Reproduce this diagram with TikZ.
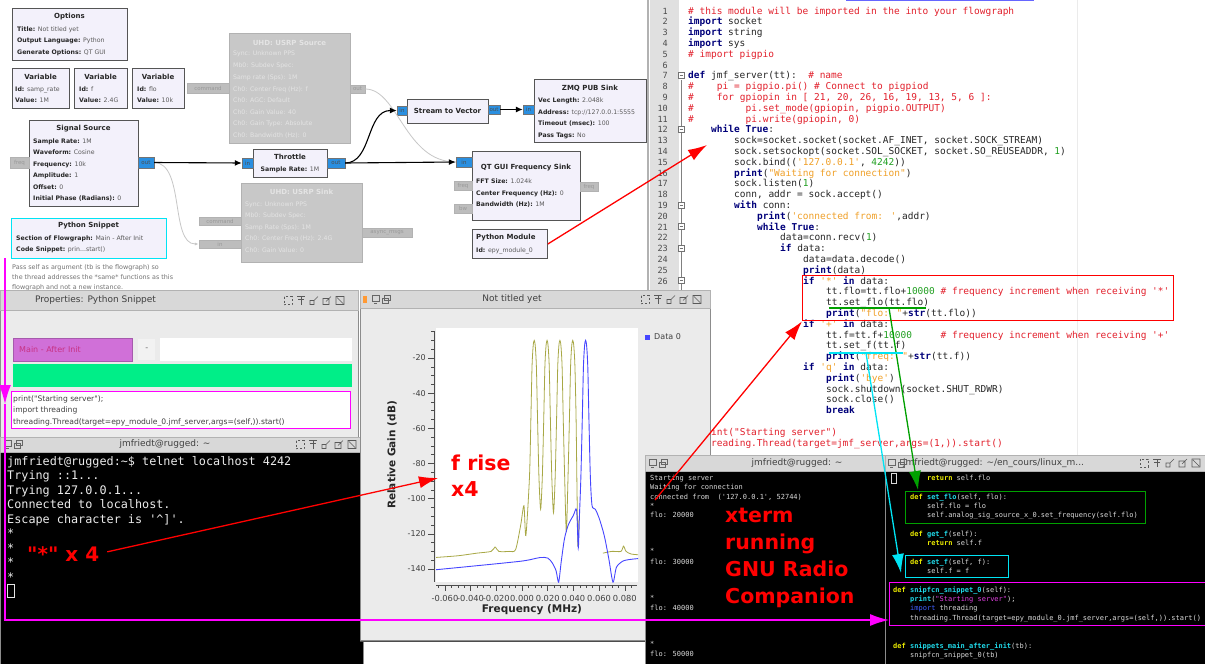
\documentclass[tikz,border=0pt]{standalone}
\usepackage{fontspec}
\setmainfont{DejaVu Sans}
\newfontfamily\uif{DejaVu Sans}
\newfontfamily\codef{DejaVu Sans Mono}
\usetikzlibrary{arrows.meta}
\definecolor{blockbg}{HTML}{F3F1FB}
\definecolor{blockbd}{HTML}{555555}
\definecolor{portblue}{HTML}{2A8FE0}
\definecolor{portgray}{HTML}{BDBDBD}
\definecolor{fadegray}{HTML}{C8C8C8}
\definecolor{fadetxt}{HTML}{E4E4E4}
\definecolor{valgray}{HTML}{5A5A5A}
\definecolor{kwblue}{HTML}{00007A}
\definecolor{cmred}{HTML}{E2202C}
\definecolor{storange}{HTML}{F0A028}
\definecolor{nmgreen}{HTML}{22A022}
\definecolor{gutter}{HTML}{E0E0E0}
\definecolor{winbg}{HTML}{EBEBEB}
\definecolor{titlebar}{HTML}{D8D8D8}
\definecolor{annred}{HTML}{FF0000}
\definecolor{anngreen}{HTML}{00A000}
\definecolor{anncyan}{HTML}{00E4F4}
\definecolor{annmag}{HTML}{FF00FF}
\definecolor{specolive}{HTML}{A8A846}
\definecolor{specblue}{HTML}{4646FF}
\definecolor{snipgreen}{HTML}{00EE88}
\definecolor{combomag}{HTML}{D070D8}
\definecolor{termyellow}{HTML}{E8E800}
\definecolor{termcyan}{HTML}{20D8E8}
\definecolor{termmag}{HTML}{E040E0}
\definecolor{termblue}{HTML}{4060FF}
\newcommand\Kw[1]{{\bfseries\color{kwblue}#1}}
\newcommand\Cm[1]{{\color{cmred}#1}}
\newcommand\Sr[1]{{\color{storange}#1}}
\newcommand\Nm[1]{{\color{nmgreen}#1}}
\newcommand\Pk[1]{{\color{black!85}\bfseries #1}}
\newcommand\Tk[1]{{\bfseries\color{termyellow}#1}}
\newcommand\Tf[1]{{\bfseries\color{termcyan}#1}}
\newcommand\Ts[1]{{\color{termmag}#1}}
\newcommand\Ti[1]{{\color{termblue}#1}}
\newcommand\CL[3]{\node[codeln] (cl#2-#1) at ({688+#1*5.75},{14+(#2-1)*10.8}) {#3};}
\newcommand\TL[4]{\node[sterm] (#1) at (#2,#3) {#4};}
\newcommand\wicons[2]{%
\begin{scope}[shift={(#1,#2)}, color=black!65, line width=0.6pt]
 \draw[dash pattern=on 2pt off 2pt] (0,-4) rectangle (8,4);
 \draw (13,-4) -- (21,-4) (17,-4) -- (17,4) (14,-1) -- (20,-1);
 \draw (26,0) rectangle (30,4) (30,0) -- (34,-4);
 \draw (39,-2) rectangle (45,4) (42,1) -- (47,-4);
 \draw (52,-4) rectangle (60,4) (53,-3) -- (59,3);
\end{scope}}
\newcommand\licons[2]{%
\begin{scope}[shift={(#1,#2)}, color=black!60, line width=0.6pt]
 \draw (0,-4) rectangle (7,2) (2,4) -- (5,4);
 \draw (10,-1) rectangle (16,4) (12,-4) rectangle (18,1);
\end{scope}}
\tikzset{
 codeln/.style={anchor=base west, inner sep=0, font=\codef\fontsize{9.5}{10}\selectfont, text=black!85},
 lnum/.style={anchor=base east, inner sep=0, font=\codef\fontsize{8.5}{9}\selectfont, text=black!70},
 blk/.style={draw=blockbd, fill=blockbg, line width=0.9pt, inner sep=0, anchor=north west},
 gblk/.style={draw=black!30, fill=fadegray, line width=0.8pt, inner sep=0, anchor=north west},
 ttl/.style={inner sep=0, font=\uif\bfseries\fontsize{7}{8}\selectfont, text=black!85},
 fttl/.style={inner sep=0, font=\uif\bfseries\fontsize{7}{8}\selectfont, text=fadetxt},
 prm/.style={inner sep=0, anchor=base west, font=\uif\fontsize{6.2}{7}\selectfont, text=valgray},
 fprm/.style={inner sep=0, anchor=base west, font=\uif\fontsize{6.2}{7}\selectfont, text=fadetxt},
 note/.style={inner sep=0, anchor=base west, font=\uif\fontsize{6.4}{7}\selectfont, text=black!55},
 bport/.style={draw=black!55, fill=portblue, inner sep=0, font=\uif\fontsize{5.5}{6}\selectfont, text=black!70},
 gport/.style={draw=black!30, fill=portgray, inner sep=0, font=\uif\fontsize{5.5}{6}\selectfont, text=black!40},
 conn/.style={draw=black, line width=1.1pt, -{Latex[length=7pt,width=6pt]}},
 gconn/.style={draw=black!22, line width=0.8pt},
 win/.style={anchor=north west, inner sep=0, fill=winbg, draw=black!45, line width=0.6pt},
 tbar/.style={anchor=north west, inner sep=0, fill=titlebar, draw=black!30, line width=0.4pt},
 wtitle/.style={inner sep=0, font=\uif\fontsize{9}{10}\selectfont, text=black!75},
 term/.style={anchor=base west, inner sep=0, font=\codef\fontsize{11.8}{12}\selectfont, text=white!92!black},
 sterm/.style={anchor=base west, inner sep=0, font=\codef\fontsize{7}{8}\selectfont, text=white!85!black},
 uitxt/.style={anchor=base west, inner sep=0, font=\uif\fontsize{7.6}{8}\selectfont, text=black!75},
 ann/.style={inner sep=0, anchor=base west, font=\uif\bfseries\fontsize{20.5}{22}\selectfont, text=annred},
 redarr/.style={draw=annred, line width=1.3pt, -{Latex[length=19pt,width=12pt]}},
 grnarr/.style={draw=anngreen, line width=1.3pt, -{Latex[length=19pt,width=12pt]}},
 cyanarr/.style={draw=anncyan, line width=1.3pt, -{Latex[length=19pt,width=12pt]}},
 magarr/.style={draw=annmag, line width=1.3pt, -{Latex[length=19pt,width=12pt]}},
 abox/.style={anchor=north west, inner sep=0, line width=1.4pt},
 ylab/.style={anchor=east, inner sep=0, font=\uif\fontsize{8}{9}\selectfont, text=black!75},
 xlab/.style={inner sep=0, font=\uif\fontsize{8.3}{9}\selectfont, text=black!75}
}
\begin{document}
\begin{tikzpicture}[x=1pt,y=-1pt]
\useasboundingbox (0,0) rectangle (1205,664);
\fill[white] (0,0) rectangle (1205,664);

% ================= flowgraph =================
\node[blk, minimum width=115, minimum height=52] (opt) at (12,8) {};
\node[ttl] (opt-t) at (69.5,17) {Options};
\node[prm] (opt-1) at (17,31.5) {\Pk{Title:} Not titled yet};
\node[prm] (opt-2) at (17,42.5) {\Pk{Output Language:} Python};
\node[prm] (opt-3) at (17,54.5) {\Pk{Generate Options:} QT GUI};

\node[blk, minimum width=57, minimum height=40] (v1) at (12,68) {};
\node[ttl] (v1-t) at (40.5,77) {Variable};
\node[prm] (v1-1) at (15,91.5) {\Pk{Id:} samp\_rate};
\node[prm] (v1-2) at (15,102.5) {\Pk{Value:} 1M};
\node[blk, minimum width=53, minimum height=40] (v2) at (74,68) {};
\node[ttl] (v2-t) at (100.5,77) {Variable};
\node[prm] (v2-1) at (79,91.5) {\Pk{Id:} f};
\node[prm] (v2-2) at (79,102.5) {\Pk{Value:} 2.4G};
\node[blk, minimum width=52, minimum height=40] (v3) at (132,68) {};
\node[ttl] (v3-t) at (158,77) {Variable};
\node[prm] (v3-1) at (137,91.5) {\Pk{Id:} flo};
\node[prm] (v3-2) at (137,102.5) {\Pk{Value:} 10k};

\node[blk, minimum width=109, minimum height=86] (ss) at (29,120) {};
\node[ttl] (ss-t) at (83.5,129) {Signal Source};
\node[prm] (ss-1) at (33,143) {\Pk{Sample Rate:} 1M};
\node[prm] (ss-2) at (33,154.5) {\Pk{Waveform:} Cosine};
\node[prm] (ss-3) at (33,166) {\Pk{Frequency:} 10k};
\node[prm] (ss-4) at (33,177.5) {\Pk{Amplitude:} 1};
\node[prm] (ss-5) at (33,189) {\Pk{Offset:} 0};
\node[prm] (ss-6) at (33,200.5) {\Pk{Initial Phase (Radians):} 0};
\node[gport, minimum width=19, minimum height=11] (ss-freq) at (19.5,162.5) {freq};
\node[bport, minimum width=16, minimum height=11] (ss-out) at (146,162.5) {out};

\node[blk, draw=anncyan, line width=1.4pt, minimum width=155, minimum height=40] (snip) at (11,218) {};
\node[ttl] (snip-t) at (88.5,226) {Python Snippet};
\node[prm] (snip-1) at (16,240.5) {\Pk{Section of Flowgraph:} Main - After Init};
\node[prm] (snip-2) at (16,251.5) {\Pk{Code Snippet:} prin...start()};

\node[note] (n1) at (12,269.5) {Pass self as argument (tb is the flowgraph) so};
\node[note] (n2) at (12,279.5) {the thread addresses the *same* functions as this};
\node[note] (n3) at (12,289) {flowgraph and not a new instance.};

% UHD source (disabled)
\node[gblk, minimum width=121, minimum height=110] (usrc) at (229,33) {};
\node[fttl] (usrc-t) at (289.5,43) {UHD: USRP Source};
\node[fprm] (us1) at (233,55.5) {Sync: Unknown PPS};
\node[fprm] (us2) at (233,67.5) {Mb0: Subdev Spec:};
\node[fprm] (us3) at (233,79.5) {Samp rate (Sps): 1M};
\node[fprm] (us4) at (233,91.5) {Ch0: Center Freq (Hz): f};
\node[fprm] (us5) at (233,102.5) {Ch0: AGC: Default};
\node[fprm] (us6) at (233,114.5) {Ch0: Gain Value: 40};
\node[fprm] (us7) at (233,125.5) {Ch0: Gain Type: Absolute};
\node[fprm] (us8) at (233,137.5) {Ch0: Bandwidth (Hz): 0};
\node[gport, minimum width=42, minimum height=10] (usrc-cmd) at (208,88) {command};
\node[gport, minimum width=15, minimum height=8] (usrc-out) at (357.5,89) {out};

% Throttle
\node[blk, minimum width=74, minimum height=28] (thr) at (253,149) {};
\node[ttl] (thr-t) at (290,157) {Throttle};
\node[prm, anchor=base] (thr-1) at (290,171.5) {\Pk{Sample Rate:} 1M};
\node[bport, minimum width=11, minimum height=10] (thr-in) at (247.5,163) {in};
\node[bport, minimum width=18, minimum height=10] (thr-out) at (336,163) {out};

% UHD sink (disabled)
\node[gblk, minimum width=121, minimum height=79] (usnk) at (241,183) {};
\node[fttl] (usnk-t) at (301.5,192) {UHD: USRP Sink};
\node[fprm] (uk1) at (245,206) {Sync: Unknown PPS};
\node[fprm] (uk2) at (245,217.5) {Mb0: Subdev Spec:};
\node[fprm] (uk3) at (245,229) {Samp Rate (Sps): 1M};
\node[fprm] (uk4) at (245,240.5) {Ch0: Center Freq (Hz): 2.4G};
\node[fprm] (uk5) at (245,252) {Ch0: Gain Value: 0};
\node[gport, minimum width=42, minimum height=8] (usnk-cmd) at (220,221) {command};
\node[gport, minimum width=42, minimum height=8] (usnk-in) at (220,244) {in};
\node[gport, minimum width=50, minimum height=9] (usnk-msg) at (387,232.5) {async\_msgs};

% Stream to vector, ZMQ
\node[blk, minimum width=81, minimum height=24] (stv) at (407,99) {};
\node[ttl] (stv-t) at (447.5,111) {Stream to Vector};
\node[bport, minimum width=10, minimum height=9] (stv-in) at (402,110.5) {in};
\node[bport, minimum width=12, minimum height=9] (stv-out) at (494,109.5) {out};

\node[blk, minimum width=112, minimum height=63] (zmq) at (534,79) {};
\node[ttl] (zmq-t) at (590,88) {ZMQ PUB Sink};
\node[prm] (zmq-1) at (538,102.5) {\Pk{Vec Length:} 2.048k};
\node[prm] (zmq-2) at (538,114.5) {\Pk{Address:} tcp://127.0.0.1:5555};
\node[prm] (zmq-3) at (538,125.5) {\Pk{Timeout (msec):} 100};
\node[prm] (zmq-4) at (538,137.5) {\Pk{Pass Tags:} No};
\node[bport, minimum width=11, minimum height=9] (zmq-in) at (528.5,109.5) {in};

% QT GUI sink
\node[blk, minimum width=108, minimum height=69] (qt) at (472,151) {};
\node[ttl] (qt-t) at (526,168) {QT GUI Frequency Sink};
\node[prm] (qt-1) at (476,183.5) {\Pk{FFT Size:} 1.024k};
\node[prm] (qt-2) at (476,195.5) {\Pk{Center Frequency (Hz):} 0};
\node[prm] (qt-3) at (476,206.5) {\Pk{Bandwidth (Hz):} 1M};
\node[bport, minimum width=16, minimum height=10] (qt-in) at (464,162) {in};
\node[gport, minimum width=18, minimum height=9] (qt-freq) at (463,185.5) {freq};
\node[gport, minimum width=18, minimum height=9] (qt-bw) at (463,208.5) {bw};
\node[gport, minimum width=18, minimum height=9] (qt-fo) at (589,186.5) {freq};

% Python module
\node[blk, minimum width=75, minimum height=29] (pmod) at (472,229) {};
\node[ttl, anchor=west] (pmod-t) at (476,238) {Python Module};
\node[prm] (pmod-1) at (476,252.5) {\Pk{Id:} epy\_module\_0};

% connections
\draw[gconn] (usrc-out.east) .. controls (398,89) and (405,162) .. (qt-in.west);
\draw[gconn, -{Latex[length=4pt,width=3pt]}] (ss-out.east) .. controls (185,163) and (170,244) .. (usnk-in.west);
\draw[conn] (ss-out.east) -- (thr-in.west);
\draw[conn] (thr-out.east) .. controls (372,163) and (366,110.5) .. (stv-in.west);
\draw[conn] (thr-out.east) -- (qt-in.west);
\draw[conn] (stv-out.east) -- (zmq-in.west);

% ================= editor =================
\fill[white] (647,0) rectangle (1205,455);
\fill[gutter] (650,0) rectangle (679,455);
\draw[black!30, line width=2pt] (648,0) -- (648,455);
\draw[black!8] (1077,0) -- (1077,455);
\draw[blue!60, line width=1.5pt] (846,0.7) -- (1034,0.7);
\foreach \n in {1,...,26} {\node[lnum] (ln\n) at (668,{14+(\n-1)*10.8}) {\n};}
\draw[black!50, line width=0.5pt] (681,80) -- (681,290);
\foreach \n in {7,12,19,21,23,26} {
 \draw[black!55, fill=white, line width=0.5pt] (678,{14+(\n-1)*10.8-6.5}) rectangle (684,{14+(\n-1)*10.8-0.5});
 \draw[black!55, line width=0.5pt] (679.5,{14+(\n-1)*10.8-3.5}) -- (682.5,{14+(\n-1)*10.8-3.5});}
\CL{0}{1}{\Cm{\# this module will be imported in the into your flowgraph}}
\CL{0}{2}{\Kw{import} socket}
\CL{0}{3}{\Kw{import} string}
\CL{0}{4}{\Kw{import} sys}
\CL{0}{5}{\Cm{\# import pigpio}}
\CL{0}{7}{\Kw{def} jmf\_server(tt):\ \ \Cm{\# name}}
\CL{0}{8}{\Cm{\#}}
\CL{5}{8}{\Cm{pi = pigpio.pi() \# Connect to pigpiod}}
\CL{0}{9}{\Cm{\#}}
\CL{5}{9}{\Cm{for gpiopin in [ 21, 20, 26, 16, 19, 13, 5, 6 ]:}}
\CL{0}{10}{\Cm{\#}}
\CL{10}{10}{\Cm{pi.set\_mode(gpiopin, pigpio.OUTPUT)}}
\CL{0}{11}{\Cm{\#}}
\CL{10}{11}{\Cm{pi.write(gpiopin, 0)}}
\CL{4}{12}{\Kw{while} \Kw{True}:}
\CL{8}{13}{sock=socket.socket(socket.AF\_INET, socket.SOCK\_STREAM)}
\CL{8}{14}{sock.setsockopt(socket.SOL\_SOCKET, socket.SO\_REUSEADDR, \Nm{1})}
\CL{8}{15}{sock.bind((\Sr{'127.0.0.1'}, \Nm{4242}))}
\CL{8}{16}{\Kw{print}(\Sr{"Waiting for connection"})}
\CL{8}{17}{sock.listen(\Nm{1})}
\CL{8}{18}{conn, addr = sock.accept()}
\CL{8}{19}{\Kw{with} conn:}
\CL{12}{20}{\Kw{print}(\Sr{'connected from: '},addr)}
\CL{12}{21}{\Kw{while} \Kw{True}:}
\CL{16}{22}{data=conn.recv(\Nm{1})}
\CL{16}{23}{\Kw{if} data:}
\CL{20}{24}{data=data.decode()}
\CL{20}{25}{\Kw{print}(data)}
\CL{20}{26}{\Kw{if} \Sr{'*'} \Kw{in} data:}
\CL{24}{27}{tt.flo=tt.flo+\Nm{10000} \Cm{\# frequency increment when receiving '*'}}
\CL{24}{28}{tt.set\_flo(tt.flo)}
\CL{24}{29}{\Kw{print}(\Sr{"flo: "}+\Kw{str}(tt.flo))}
\CL{20}{30}{\Kw{if} \Sr{'+'} \Kw{in} data:}
\CL{24}{31}{tt.f=tt.f+\Nm{10000}\ \ \ \ \ \Cm{\# frequency increment when receiving '+'}}
\CL{24}{32}{tt.set\_f(tt.f)}
\CL{24}{33}{\Kw{print}(\Sr{"freq: "}+\Kw{str}(tt.f))}
\CL{20}{34}{\Kw{if} \Sr{'q'} \Kw{in} data:}
\CL{24}{35}{\Kw{print}(\Sr{'bye'})}
\CL{24}{36}{sock.shutdown(socket.SHUT\_RDWR)}
\CL{24}{37}{sock.close()}
\CL{24}{38}{\Kw{break}}
\CL{4}{40}{\Cm{int("Starting server")}}
\CL{4}{41}{\Cm{reading.Thread(target=jmf\_server,args=(1,)).start()}}

% ================= properties window =================
\node[win, minimum width=358, minimum height=147] (propwin) at (0,290) {};
\node[tbar, minimum width=358, minimum height=20] (proptb) at (0,290) {};
\node[wtitle, anchor=west] (proptt) at (35,300.5) {Properties: Python Snippet};
\wicons{284}{300.5}
\node[anchor=north west, inner sep=0, fill=combomag, draw=combomag!80!black, line width=0.4pt, minimum width=119, minimum height=23] (combo) at (13,338) {};
\node[anchor=west, inner sep=0, font=\uif\fontsize{8}{9}\selectfont, text=purple!55!combomag] (combot) at (19,349.5) {Main - After Init};
\node[anchor=north west, inner sep=0, fill=white!95!black, minimum width=17, minimum height=21] (minus) at (138,339) {};
\node[inner sep=0, font=\uif\fontsize{8}{9}\selectfont, text=black!60] (minust) at (minus.center) {-};
\node[anchor=north west, inner sep=0, fill=white, minimum width=192, minimum height=23] (field) at (160,338) {};
\node[anchor=north west, inner sep=0, fill=snipgreen, minimum width=339, minimum height=23] (gbar) at (13,364) {};
\node[anchor=north west, inner sep=0, fill=white, minimum width=339, minimum height=37] (codearea) at (11,391) {};
\node[uitxt] (pc1) at (13,401) {print("Starting server");};
\node[uitxt] (pc2) at (13,412.5) {import threading};
\node[uitxt] (pc3) at (13,424) {threading.Thread(target=epy\_module\_0.jmf\_server,args=(self,)).start()};

% ================= telnet window =================
\node[win, fill=black, minimum width=363, minimum height=227] (telwin) at (0,437) {};
\node[tbar, minimum width=363, minimum height=15] (teltb) at (0,437) {};
\node[wtitle] (teltt) at (165,444.5) {jmfriedt@rugged: \textasciitilde};
\licons{4}{444.5}
\wicons{296}{444.5}
\node[term] (t0) at (7,465) {jmfriedt@rugged:\textasciitilde\$ telnet localhost 4242};
\node[term] (t1) at (7,479.5) {Trying ::1...};
\node[term] (t2) at (7,494) {Trying 127.0.0.1...};
\node[term] (t3) at (7,508.5) {Connected to localhost.};
\node[term] (t4) at (7,523) {Escape character is '\textasciicircum]'.};
\node[term] (t5) at (7,537.5) {*};
\node[term] (t6) at (7,552) {*};
\node[term] (t7) at (7,566.5) {*};
\node[term] (t8) at (7,581) {*};
\draw[white!90!black, line width=0.8pt] (7,584) rectangle (14,597);

% ================= plot window =================
\fill[white] (375,641) rectangle (645,664);
\draw[black!70, line width=1pt] (360,641) -- (645,641);
\node[win, minimum width=350, minimum height=350] (plotwin) at (360,290) {};
\node[tbar, minimum width=350, minimum height=18] (plottb) at (360,290) {};
\node[wtitle] (plottt) at (512,299.5) {Not titled yet};
\fill[orange!80] (363,296) rectangle (367,303);
\licons{372}{299.5}
\wicons{641}{299.5}
\node[anchor=north west, inner sep=0, fill=white, minimum width=202, minimum height=254] (plotarea) at (436,328) {};
\begin{scope}
\clip (436,328) rectangle (638,582);
\begin{scope}[shift={(522,322.84)}, x=1285pt, y=1.758pt]
\draw[specolive, line width=0.8pt] plot[smooth, tension=0.45] coordinates {
(-0.068,-133.5) (-0.05,-132.5) (-0.035,-131) (-0.024,-130) (-0.021,-127.5) (-0.018,-130) (-0.01,-130) (-0.005,-129)
(-0.001,-115) (0.0015,-104) (0.003,-121)
(0.0058,-88) (0.0069,-55) (0.0078,-25) (0.0087,-13) (0.0095,-10) (0.0103,-13) (0.0112,-25) (0.0121,-55) (0.0132,-88)
(0.0145,-106)
(0.0158,-88) (0.0169,-55) (0.0178,-25) (0.0187,-13) (0.0195,-10) (0.0203,-13) (0.0212,-25) (0.0221,-55) (0.0232,-88)
(0.0245,-108)
(0.0258,-88) (0.0269,-55) (0.0278,-25) (0.0287,-13) (0.0295,-10) (0.0303,-13) (0.0312,-25) (0.0321,-55) (0.0332,-88)
(0.0345,-119)
(0.0358,-88) (0.0369,-55) (0.0378,-25) (0.0387,-13) (0.0395,-10) (0.0403,-13) (0.0412,-25) (0.0421,-55) (0.0428,-95)
(0.0435,-127) (0.0443,-112)};
\draw[specolive, line width=0.8pt] plot[smooth, tension=0.45] coordinates {
(0.063,-131) (0.07,-130) (0.077,-130) (0.079,-127) (0.081,-130) (0.085,-131.5) (0.092,-132)};
\draw[specblue, line width=0.9pt] plot[smooth, tension=0.45] coordinates {
(-0.068,-140.5) (-0.04,-138.5) (0.0,-135.5) (0.014,-133.5) (0.02,-133.8) (0.0235,-136.5) (0.0265,-141) (0.0285,-147.5)
(0.0305,-136) (0.033,-123) (0.036,-115) (0.04,-109.5) (0.0425,-106.5) (0.0438,-128) (0.0447,-110)
(0.0458,-88) (0.0469,-55) (0.0478,-25) (0.0487,-13) (0.0495,-10) (0.0503,-13) (0.0512,-25) (0.0521,-55) (0.0532,-88)
(0.0545,-104) (0.057,-106) (0.06,-111) (0.064,-121) (0.0675,-134) (0.0708,-147.5) (0.0735,-139) (0.0786,-135.5) (0.085,-134.5) (0.092,-134)};
\end{scope}
\end{scope}
% axes
\draw[black!70, line width=0.6pt] (434,331) -- (434,582);
\foreach \k in {1,...,28} {\draw[black!70, line width=0.5pt] (431,{358+(5*\k-20)*1.758}) -- (434,{358+(5*\k-20)*1.758});}
\foreach \d in {20,40,...,140} {
 \draw[black!70, line width=0.6pt] (428,{358+(\d-20)*1.758}) -- (434,{358+(\d-20)*1.758});
 \node[ylab] (yl\d) at (426,{358+(\d-20)*1.758}) {-\d};}
\draw[black!70, line width=0.6pt] (436,585) -- (637,585);
\foreach \k in {-13,...,17} {\draw[black!70, line width=0.5pt] ({522+\k*6.425},585) -- ({522+\k*6.425},588);}
\foreach \m/\lab in {-0.06/-0.060,-0.04/-0.040,-0.02/-0.020,0/0.000,0.02/0.020,0.04/0.040,0.06/0.060,0.08/0.080} {
 \draw[black!70, line width=0.6pt] ({522+\m*1285},585) -- ({522+\m*1285},591);
 \node[xlab] at ({522+\m*1285},598) {\lab};}
\node[inner sep=0, font=\uif\bfseries\fontsize{10.5}{11}\selectfont, text=black!85] (xaxl) at (532,610) {Frequency (MHz)};
\node[inner sep=0, rotate=90, font=\uif\bfseries\fontsize{10.5}{11}\selectfont, text=black!85] (yaxl) at (392,455) {Relative Gain (dB)};
\fill[specblue] (645,334.5) rectangle (650,339.5);
\node[inner sep=0, anchor=west, font=\uif\fontsize{8}{9}\selectfont, text=black!75] (legend) at (654,337) {Data 0};

% ================= middle xterm =================
\node[win, fill=black, minimum width=243, minimum height=209] (xtwin) at (645,455) {};
\node[tbar, minimum width=243, minimum height=16] (xttb) at (645,455) {};
\node[wtitle] (xttt) at (797,463) {jmfriedt@rugged: \textasciitilde};
\licons{649}{463}
\begin{scope}
\clip (645,471) rectangle (885,664);
\node[sterm] (m1) at (650,480.5) {Starting server};
\node[sterm] (m2) at (650,489.5) {Waiting for connection};
\node[sterm] (m3) at (650,499.5) {connected from\ \ ('127.0.0.1', 52744)};
\node[sterm] (m4) at (650,508) {*};
\node[sterm] (m5) at (650,517.5) {flo: 20000};
\node[sterm] (m6) at (650,553) {*};
\node[sterm] (m7) at (650,564.5) {flo: 30000};
\node[sterm] (m8) at (650,600) {*};
\node[sterm] (m9) at (650,610.5) {flo: 40000};
\node[sterm] (m10) at (650,646) {*};
\node[sterm] (m11) at (650,656.5) {flo: 50000};
\end{scope}

% ================= right xterm =================
\node[win, fill=black, minimum width=320, minimum height=209] (rtwin) at (885,455) {};
\node[tbar, minimum width=320, minimum height=16] (rttb) at (885,455) {};
\node[wtitle, anchor=west] (rttt) at (903,463) {jmfriedt@rugged: \textasciitilde/en\_cours/linux\_m...};
\licons{888}{463}
\wicons{1140}{463}
\begin{scope}
\clip (885,471) rectangle (1205,664);
\draw[white!85!black, line width=0.7pt] (891,473) rectangle (896,483);
\TL{r1}{927}{480.5}{\Tk{return} self.flo}
\TL{r2}{910}{499.5}{\Tk{def} \Tf{set\_flo}(self, flo):}
\TL{r3}{927}{508.5}{self.flo = flo}
\TL{r4}{927}{517.5}{self.analog\_sig\_source\_x\_0.set\_frequency(self.flo)}
\TL{r5}{910}{536.5}{\Tk{def} \Tf{get\_f}(self):}
\TL{r6}{927}{545.5}{\Tk{return} self.f}
\TL{r7}{910}{564.5}{\Tk{def} \Tf{set\_f}(self, f):}
\TL{r8}{927}{573.5}{self.f = f}
\TL{r9}{893}{592.5}{\Tk{def} \Tf{snipfcn\_snippet\_0}(self):}
\TL{r10}{910}{601.5}{\Tf{print}(\Ts{"Starting server"});}
\TL{r11}{910}{610.5}{\Ti{import} threading}
\TL{r12}{910}{620.5}{threading.Thread(target=epy\_module\_0.jmf\_server,args=(self,)).start()}
\TL{r13}{893}{648.5}{\Tk{def} \Tf{snippets\_main\_after\_init}(tb):}
\TL{r14}{910}{657.5}{snipfcn\_snippet\_0(tb)}
\end{scope}

% ================= annotations =================
\node[abox, draw=annred, minimum width=371, minimum height=45] (redbox) at (802,275) {};
\node[abox, draw=anngreen, minimum width=240, minimum height=32] (grbox) at (905,491) {};
\node[abox, draw=anncyan, minimum width=103, minimum height=22] (cybox) at (905,555) {};
\node[abox, draw=annmag, minimum width=316, minimum height=43] (mgbox) at (889,582) {};
\node[abox, draw=annmag, line width=1.3pt, minimum width=339, minimum height=37] (mgcode) at (11,391) {};

\coordinate (codetip) at (707,145);
\draw[redarr] (pmod.east) -- (codetip);
\coordinate (xtstart) at (655,500);
\draw[redarr] (xtstart) -- (redbox.south west);

\draw[anngreen, line width=1.3pt] (829,308) -- (926,308);
\coordinate (g1) at (889,308);
\coordinate (g2) at (918,490);
\draw[grnarr] (g1) -- (g2);
\draw[anncyan, line width=1.3pt] (829,353) -- (903,353);
\coordinate (c1) at (866,353);
\coordinate (c2) at (901,573);
\draw[cyanarr] (c1) -- (c2);

\coordinate (mtop) at (5,258);
\coordinate (mmid) at (5,404);
\coordinate (mcorner) at (5,620);
\coordinate (mend) at (889,620);
\draw[magarr] (mtop) -- (mmid);
\draw[magarr] (mmid) -- (mcorner) -- (mend);

\node[ann] (frise) at (451,470) {f rise};
\node[ann] (fx4) at (451,496) {x4};
\node[ann] (xl1) at (725,522) {xterm};
\node[ann] (xl2) at (725,549) {running};
\node[ann] (xl3) at (725,576) {GNU Radio};
\node[ann] (xl4) at (725,603) {Companion};
\node[ann, font=\uif\bfseries\fontsize{20}{22}\selectfont] (starlbl) at (27,561) {"*" x 4};
\coordinate (plottip) at (438,478);
\draw[redarr, shorten <=8pt] (starlbl.east) -- (plottip);
\end{tikzpicture}
\end{document}
